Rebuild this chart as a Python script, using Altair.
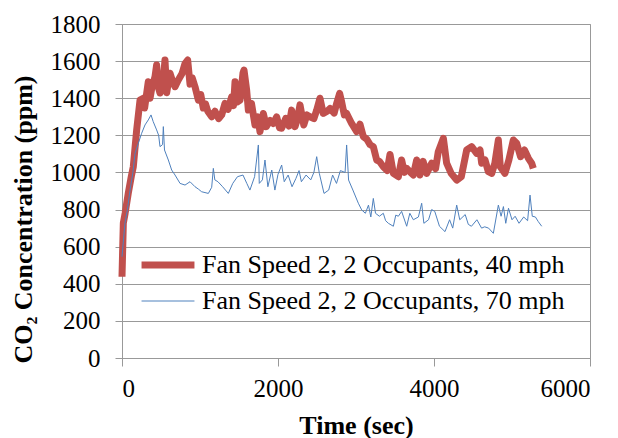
import altair as alt
import pandas as pd

# Fan Speed 2, 2 Occupants, 40 mph (red)
red_time = [0, 17, 40, 81, 120, 145, 188, 231, 273, 290, 337, 360, 380, 423, 444, 465, 487, 510, 530, 551, 573,
            615, 650, 680, 722, 770, 808, 842, 872, 900, 936, 979, 1010, 1042, 1070, 1100, 1150, 1192, 1240,
            1278, 1320, 1360, 1406, 1430, 1449, 1480, 1513, 1551, 1564, 1598, 1620, 1660, 1705, 1740, 1769,
            1812, 1850, 1900, 1940, 1983, 2020, 2047, 2100, 2140, 2175, 2218, 2250, 2282, 2330, 2370, 2410,
            2460, 2496, 2538, 2580, 2630, 2667, 2720, 2752, 2790, 2816, 2850, 2880, 2944, 3009, 3051, 3094,
            3137, 3180, 3222, 3265, 3300, 3350, 3400, 3436, 3479, 3543, 3585, 3620, 3650, 3700, 3735, 3778,
            3820, 3860, 3906, 3970, 4020, 4055, 4120, 4162, 4220, 4291, 4350, 4419, 4483, 4547, 4590, 4611,
            4654, 4697, 4740, 4780, 4825, 4850, 4910, 4960, 5017, 5060, 5110, 5160, 5210, 5252, 5273]
red_ppm = [438, 727, 780, 889, 980, 1031, 1229, 1390, 1400, 1347, 1489, 1400, 1450, 1516, 1579, 1460, 1428, 1520,
           1500, 1606, 1430, 1535, 1490, 1462, 1498, 1533, 1587, 1606, 1476, 1510, 1462, 1390, 1420, 1347, 1370,
           1330, 1300, 1330, 1290, 1310, 1372, 1340, 1408, 1360, 1489, 1380, 1390, 1535, 1552, 1444, 1336, 1372,
           1256, 1300, 1220, 1318, 1247, 1280, 1264, 1300, 1240, 1238, 1292, 1250, 1336, 1247, 1290, 1364, 1256,
           1310, 1300, 1290, 1336, 1400, 1318, 1330, 1345, 1320, 1372, 1426, 1380, 1310, 1318, 1264, 1220, 1260,
           1193, 1180, 1150, 1139, 1067, 1060, 1031, 1010, 1097, 995, 977, 1067, 1000, 1022, 1000, 986, 1067,
           986, 1060, 995, 1050, 1020, 1112, 1184, 1050, 995, 959, 977, 1121, 1139, 1103, 1121, 1050, 1067, 1004,
           995, 1050, 1175, 1031, 995, 1067, 1175, 1157, 1085, 1121, 1076, 1050, 1022]

# Fan Speed 2, 2 Occupants, 70 mph (blue)
blue_time = [0, 38, 70, 103, 140, 167, 209, 252, 295, 337, 372, 400, 444, 470, 487, 520, 530, 545, 594, 637,
             680, 744, 808, 872, 936, 980, 1021, 1107, 1150, 1171, 1190, 1230, 1290, 1363, 1420, 1480, 1551,
             1600, 1640, 1700, 1748, 1760, 1800, 1833, 1870, 1920, 1960, 2000, 2047, 2080, 2130, 2180, 2230,
             2270, 2300, 2360, 2420, 2460, 2496, 2530, 2590, 2650, 2700, 2750, 2800, 2860, 2880, 2905, 2960,
             3030, 3073, 3120, 3160, 3190, 3222, 3250, 3300, 3350, 3380, 3415, 3479, 3510, 3543, 3585, 3650,
             3690, 3735, 3800, 3842, 3870, 3930, 3970, 4010, 4070, 4141, 4200, 4240, 4291, 4330, 4400, 4440,
             4480, 4550, 4610, 4650, 4700, 4761, 4825, 4860, 4890, 4920, 4955, 5000, 5040, 5090, 5150, 5200,
             5231, 5260, 5300, 5337, 5381]
blue_ppm = [546, 727, 800, 905, 1000, 1103, 1157, 1211, 1256, 1283, 1310, 1274, 1229, 1200, 1139, 1150, 1247, 1121,
            1067, 1013, 986, 941, 932, 950, 923, 910, 896, 887, 920, 1022, 960, 950, 923, 887, 941, 977, 986, 941,
            905, 977, 1148, 941, 960, 1067, 923, 1013, 905, 990, 1040, 950, 986, 923, 968, 1010, 950, 986, 960,
            1000, 1085, 995, 887, 905, 986, 941, 1010, 1000, 1148, 959, 905, 834, 798, 780, 824, 760, 860, 780, 764,
            780, 740, 726, 710, 770, 764, 790, 710, 780, 745, 760, 834, 726, 745, 800, 790, 710, 681, 745, 700,
            824, 745, 773, 720, 710, 745, 700, 707, 700, 672, 824, 764, 816, 726, 807, 745, 764, 726, 760, 740,
            878, 764, 760, 735, 710]

series_names = ["Fan Speed 2, 2 Occupants, 40 mph", "Fan Speed 2, 2 Occupants, 70 mph"]
series_colors = ["#C0504D", "#4F81BD"]
series_widths = [7, 1]
x_ticks = [0, 2000, 4000, 6000]
y_ticks = [0, 200, 400, 600, 800, 1000, 1200, 1400, 1600, 1800]

red_df = pd.DataFrame({"t": red_time, "ppm": red_ppm, "series": series_names[0]})
blue_df = pd.DataFrame({"t": blue_time, "ppm": blue_ppm, "series": series_names[1]})

FONT = "Liberation Serif, Times New Roman, serif"

x_enc = alt.X("t:Q", scale=alt.Scale(domain=[0, 6000], nice=False),
              axis=alt.Axis(values=x_ticks, format="d", title="Time (sec)", grid=False, tickSize=8,
                            labelPadding=10, titlePadding=11))
y_enc = alt.Y("ppm:Q", scale=alt.Scale(domain=[0, 1800], nice=False),
              axis=alt.Axis(values=y_ticks, format="d", title="CO₂ Concentration (ppm)", grid=True, tickSize=7,
                            labelPadding=15, titleX=-86, titleY=195, titleAnchor="middle"))
color_enc = alt.Color("series:N", scale=alt.Scale(domain=series_names, range=series_colors),
                      legend=alt.Legend(title=None, orient="none", legendX=33, legendY=228,
                                        symbolType="M-5,0H5", symbolSize=112, labelOffset=21,
                                        rowPadding=9, padding=0, labelFontSize=26, labelLimit=600,
                                        labelFont=FONT, labelColor="#000000"))
sw_enc = alt.StrokeWidth("series:N", scale=alt.Scale(domain=series_names, range=series_widths))

red_layer = alt.Chart(red_df).mark_line(strokeJoin="round").encode(x=x_enc, y=y_enc, color=color_enc, strokeWidth=sw_enc)
blue_layer = alt.Chart(blue_df).mark_line(strokeJoin="round").encode(x=x_enc, y=y_enc, color=color_enc, strokeWidth=sw_enc)

chart = alt.layer(red_layer, blue_layer).properties(
    width=468, height=334,
    autosize=alt.AutoSizeParams(type="none"),
    padding={"left": 122, "top": 24, "right": 28, "bottom": 80},
    background="white",
).configure_view(
    stroke="#999999", strokeWidth=1
).configure_axis(
    labelFont=FONT, labelFontSize=25, labelColor="#000000",
    titleFont=FONT, titleFontSize=26, titleFontWeight="bold", titleColor="#000000",
    domainColor="#999999", tickColor="#999999", gridColor="#999999", gridWidth=1,
    domainWidth=1, tickWidth=1,
)

chart.save("out.html", embed_options={"renderer": "svg", "actions": False})
